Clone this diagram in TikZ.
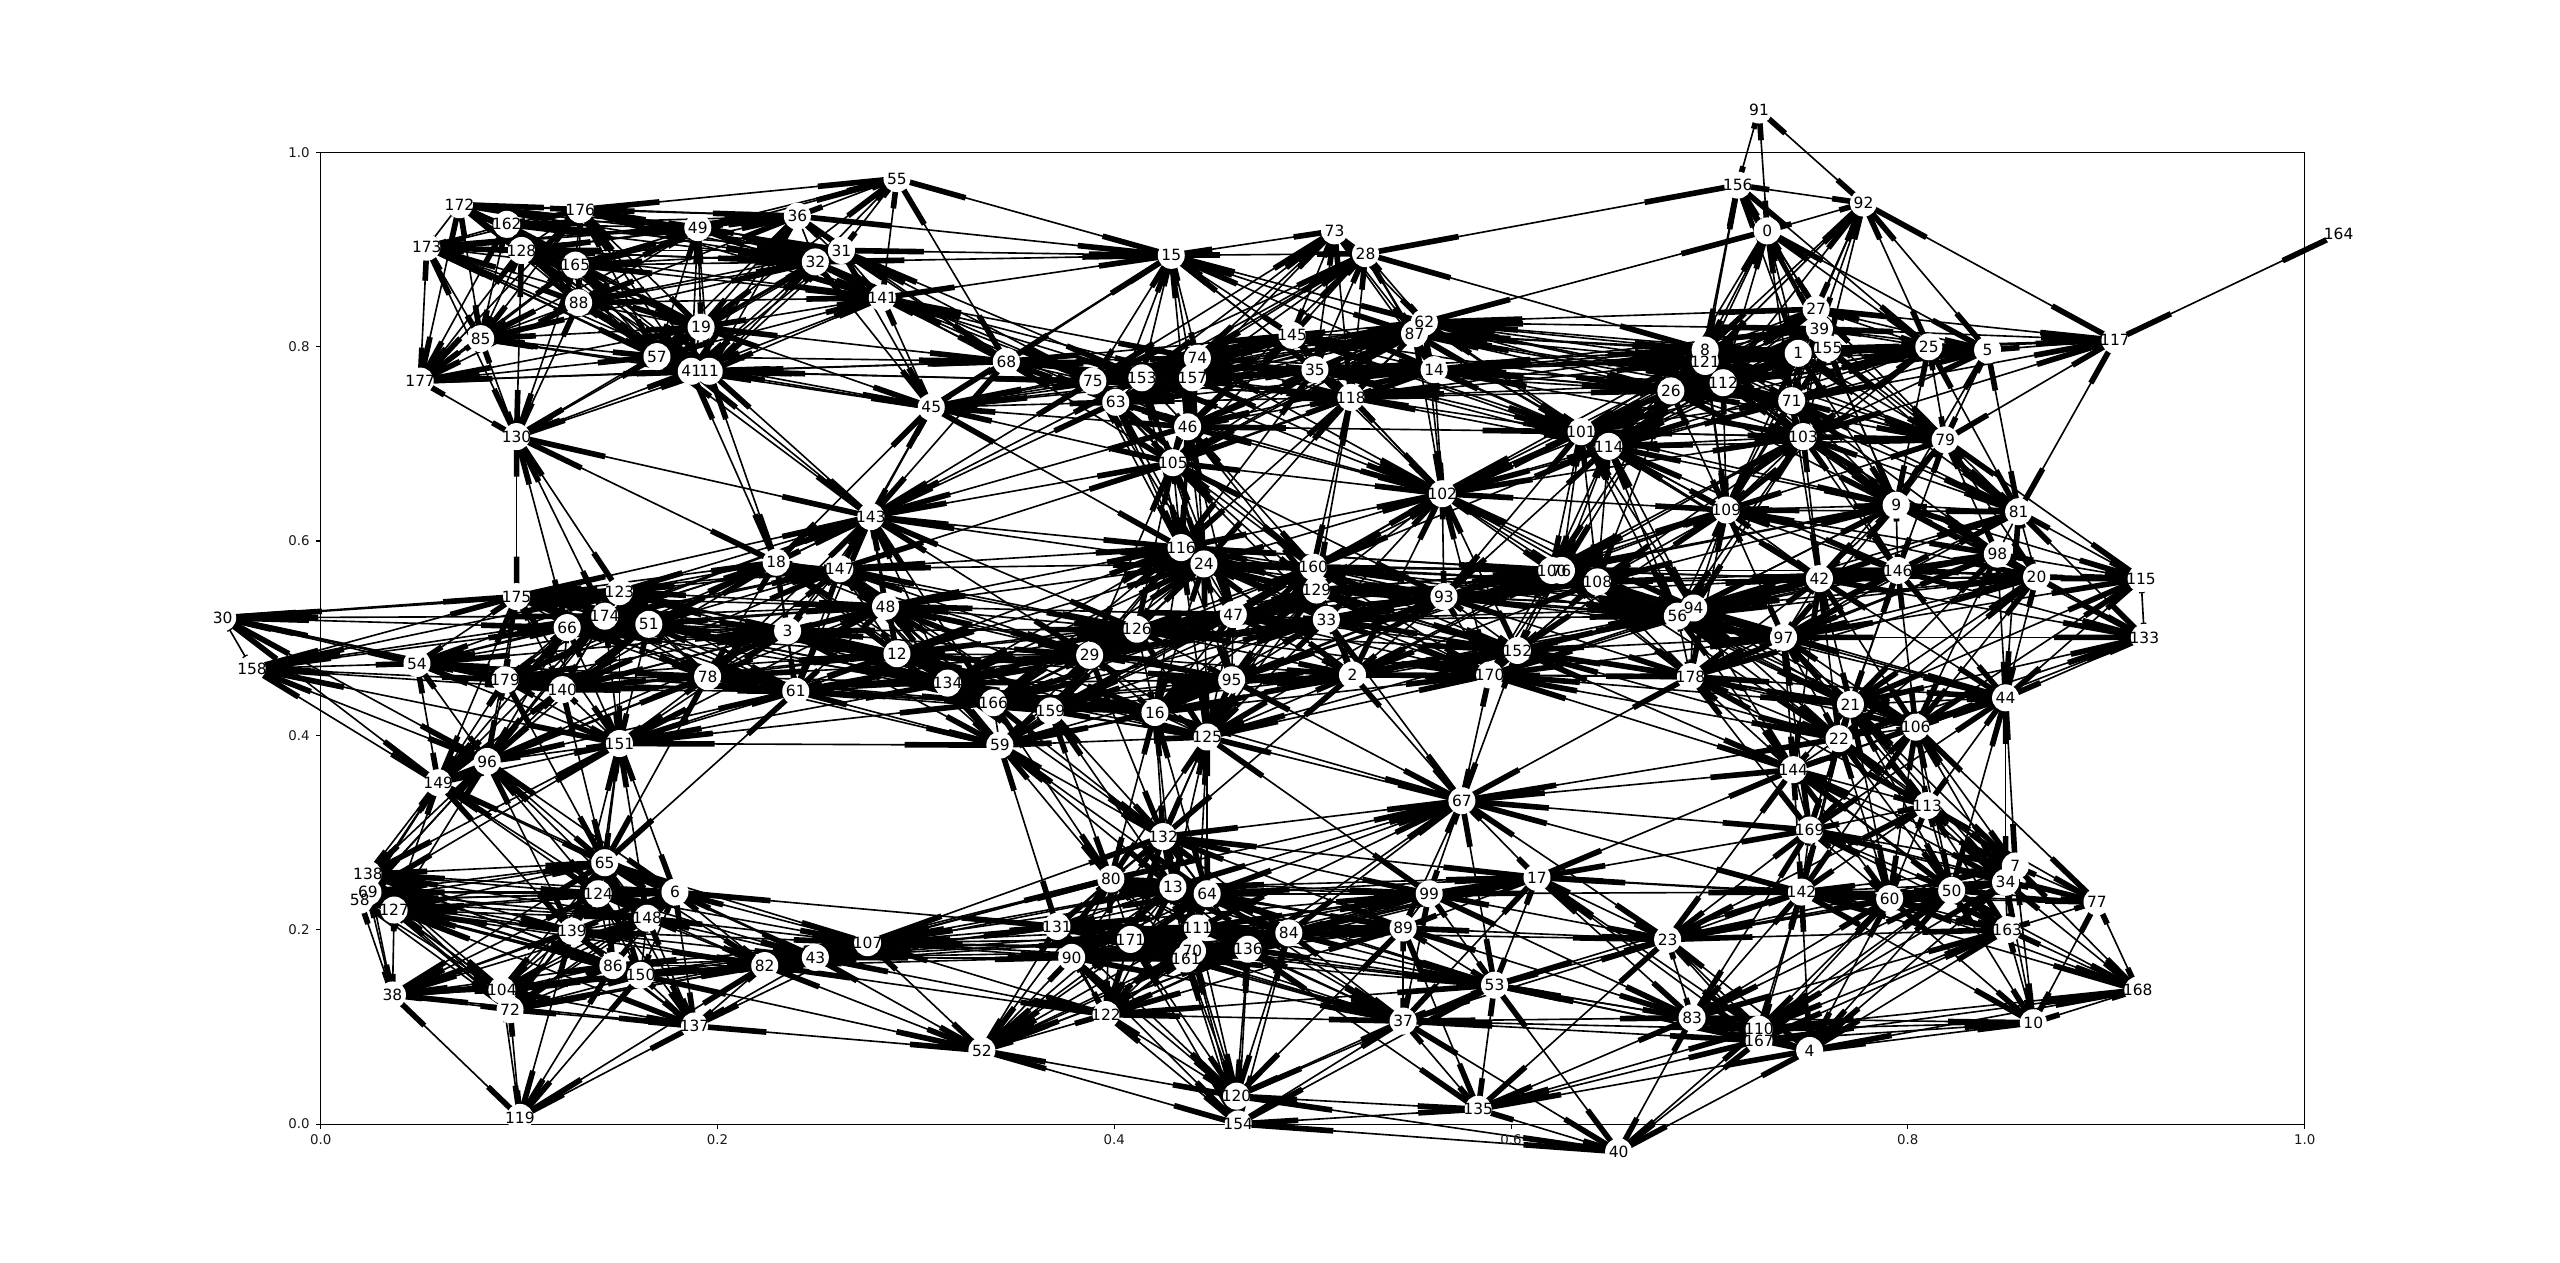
\documentclass[tikz,border=0pt]{standalone}
\usepackage{fontspec}
\setmainfont{DejaVu Sans}
\usetikzlibrary{calc,backgrounds}

\tikzset{
    vertexdisk/.style={circle, fill=white, inner sep=0pt, minimum size=0.27cm},
    vertexlabel/.style={inner sep=0pt, font=\fontsize{4.4}{5.2}\selectfont},
    ticklabel/.style={inner sep=0pt, font=\fontsize{3.8}{4.6}\selectfont, text=black!90},
    edgeline/.style={line width=0.46pt},
    edgestub/.style={line width=1.6pt},
    axisline/.style={line width=0.32pt}
}

% vertices as name/x/y, in units of the picture
\newcommand{\vertexlist}{0/1082/141,1/1101/216,2/828/413,3/482/386,4/1108/643,5/1217/214,6/413/546,7/1234/530,8/1044/214,9/1161/309,
10/1245/626,11/434/227,12/549/400,13/718/543,14/878/226,15/717/156,16/707/436,17/941/537,18/475/344,19/429/200,
20/1247/353,21/1133/431,22/1126/452,23/1021/575,24/737/345,25/1181/212,26/1023/239,27/1112/189,28/836/155,29/667/401,
30/136/378,31/515/153,32/499/160,33/812/379,34/1228/540,35/805/226,36/488/132,37/859/625,38/240/609,39/1114/201,
40/991/705,41/423/227,42/1114/354,43/499/586,44/1228/427,45/570/249,46/727/261,47/755/376,48/542/371,49/427/139,
50/1195/545,51/397/382,52/601/643,53/915/603,54/255/406,55/549/109,56/1027/377,57/402/218,58/220/551,59/612/456,
60/1157/550,61/487/423,62/872/197,63/683/246,64/739/547,65/370/528,66/347/384,67/895/490,68/616/221,69/225/546,
70/730/582,71/1097/245,72/312/618,73/817/141,74/733/219,75/669/233,76/956/349,77/1284/552,78/433/414,79/1191/269,
80/680/538,81/1236/313,82/468/591,83/1036/623,84/789/571,85/294/207,86/375/591,87/866/204,88/354/185,89/859/568,
90/656/586,91/1077/67,92/1141/124,93/884/365,94/1037/372,95/754/416,96/298/466,97/1092/390,98/1223/339,99/875/547,
100/950/349,101/968/264,102/883/302,103/1104/267,104/307/606,105/718/283,106/1173/445,107/531/577,108/978/356,109/1057/312,
110/1077/630,111/733/568,112/1055/234,113/1180/493,114/985/273,115/1311/354,116/723/335,117/1295/208,118/827/243,119/318/684,
120/757/671,121/1044/221,122/677/621,123/379/362,124/366/547,125/739/451,126/696/385,127/241/557,128/319/153,129/806/361,
130/316/267,131/647/567,132/712/512,133/1313/390,134/580/418,135/905/679,136/764/581,137/425/628,138/225/535,139/350/570,
140/344/422,141/540/182,142/1103/546,143/533/316,144/1098/471,145/791/205,146/1162/349,147/514/348,148/396/562,149/268/479,
150/392/597,151/379/455,152/929/398,153/699/231,154/758/688,155/1119/213,156/1064/113,157/730/231,158/154/409,159/643/435,
160/804/347,161/726/587,162/310/137,163/1229/569,164/1432/143,165/352/162,166/608/430,167/1077/637,168/1309/606,169/1108/508,
170/912/413,171/692/575,172/281/125,173/261/151,174/370/377,175/316/365,176/355/128,177/257/233,178/1035/414,179/309/416}

% squared distance of two vertices in axis thousandths
\newcommand{\axisdx}[2]{((\csname vx#1\endcsname-\csname vx#2\endcsname)*1000/1215)}
\newcommand{\axisdy}[2]{((\csname vy#1\endcsname-\csname vy#2\endcsname)*1000/595)}
\newcommand{\vertexdist}[2]{\numexpr\axisdx{#1}{#2}*\axisdx{#1}{#2}+\axisdy{#1}{#2}*\axisdy{#1}{#2}\relax}

\begin{document}
\begin{tikzpicture}[x=0.016327cm, y=-0.016327cm]
    \useasboundingbox (0,0) rectangle (1568,773);

    % Nodes
    \foreach \v/\vx/\vy in \vertexlist {
        \node[vertexdisk] (v\v) at (\vx+0.4,\vy+0.4) {};
        \expandafter\xdef\csname vx\v\endcsname{\vx}
        \expandafter\xdef\csname vy\v\endcsname{\vy}
    }
    \foreach \v/\vx/\vy in \vertexlist {
        \node[vertexlabel] (l\v) at (v\v.center) {\v};
    }

    % Tick labels
    \foreach \t/\tl/\tn in {0/0.0/a,0.2/0.2/b,0.4/0.4/c,0.6/0.6/d,0.8/0.8/e,1/1.0/f} {
        \node[ticklabel] (xlab\tn) at (196.4+1215.2*\t,698.2) {\tl};
        \node[ticklabel, anchor=east] (ylab\tn) at (190,688.5-595.3*\t) {\tl};
    }

    \begin{scope}[on background layer]
        % Axes
        \coordinate (framesw) at (196.4,688.5);
        \coordinate (framene) at (1411.6,93.2);
        \draw[axisline] (framesw) rectangle (framene);
        \foreach \t/\tn in {0/a,0.2/b,0.4/c,0.6/d,0.8/e,1/f} {
            \coordinate (xtick\tn) at (196.4+1215.2*\t,688.5);
            \coordinate (ytick\tn) at (196.4,688.5-595.3*\t);
            \draw[axisline] (xtick\tn) -- ++(0,2.7);
            \draw[axisline] (ytick\tn) -- ++(-2.7,0);
        }

        % Edges, each one both ways
        \foreach \a in {0,...,178} {
            \pgfmathtruncatemacro{\afirst}{\a+1}
            \foreach \b in {\afirst,...,179} {
                \ifnum\vertexdist{\a}{\b}<41000
                    \draw[edgeline] (v\a.center) -- (v\b.center);
                    \draw[edgestub] ($(v\a.center)!0.75!(v\b.center)$) -- (v\b.center);
                    \draw[edgestub] ($(v\b.center)!0.75!(v\a.center)$) -- (v\a.center);
                \fi
            }
        }
    \end{scope}
\end{tikzpicture}
\end{document}
